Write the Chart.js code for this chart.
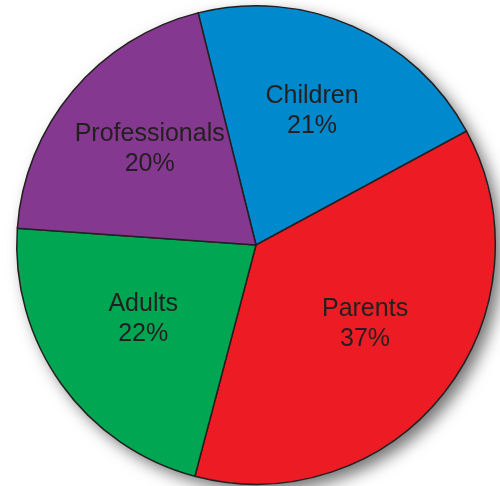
<!DOCTYPE html>
<html>
<head>
<meta charset="utf-8">
<script src="https://cdn.jsdelivr.net/npm/chart.js@4"></script>
<style>
  html, body { margin: 0; padding: 0; background: #fff; }
  #wrap { width: 500px; height: 486px; position: relative; }
</style>
</head>
<body>
<div id="wrap"><canvas id="pie"></canvas></div>
<script>
// audience share pie
const categories = ['Children', 'Parents', 'Adults', 'Professionals'];
const shares = [21, 37, 22, 20];
const sliceColors = ['#0089CC', '#ED1C24', '#00A651', '#85388F'];

// soft drop shadow behind the whole pie
const shadowPlugin = {
  id: 'pieShadow',
  beforeDatasetsDraw(chart) {
    const arc = chart.getDatasetMeta(0).data[0];
    if (!arc) return;
    const ctx = chart.ctx;
    ctx.save();
    ctx.shadowColor = 'rgba(0,0,0,0.55)';
    ctx.shadowBlur = 16;
    ctx.shadowOffsetX = 7;
    ctx.shadowOffsetY = 7;
    ctx.fillStyle = '#fff';
    ctx.beginPath();
    ctx.arc(arc.x, arc.y, arc.outerRadius, 0, Math.PI * 2);
    ctx.fill();
    ctx.restore();
  }
};

// name + percent inside each slice
const labelPlugin = {
  id: 'sliceLabels',
  afterDatasetsDraw(chart) {
    const ctx = chart.ctx;
    const meta = chart.getDatasetMeta(0);
    ctx.save();
    ctx.fillStyle = '#231F20';
    ctx.font = '25px "Liberation Sans", Arial, sans-serif';
    ctx.textAlign = 'center';
    ctx.textBaseline = 'middle';
    meta.data.forEach((arc, i) => {
      const mid = (arc.startAngle + arc.endAngle) / 2;
      const r = arc.outerRadius * 0.58;
      const x = arc.x + Math.cos(mid) * r;
      const y = arc.y + Math.sin(mid) * r - 7;
      ctx.fillText(categories[i], x, y - 15);
      ctx.fillText(shares[i] + '%', x, y + 15);
    });
    ctx.restore();
  }
};

new Chart(document.getElementById('pie'), {
  type: 'pie',
  data: {
    labels: categories,
    datasets: [{
      data: shares,
      backgroundColor: sliceColors,
      borderColor: '#231F20',
      borderWidth: 1.5,
      borderJoinStyle: 'miter'
    }]
  },
  options: {
    responsive: true,
    maintainAspectRatio: false,
    animation: false,
    rotation: -14,
    layout: { padding: { left: 16, right: 4, top: 5, bottom: 1 } },
    plugins: {
      legend: { display: false },
      tooltip: { enabled: false }
    }
  },
  plugins: [shadowPlugin, labelPlugin]
});
</script>
</body>
</html>
